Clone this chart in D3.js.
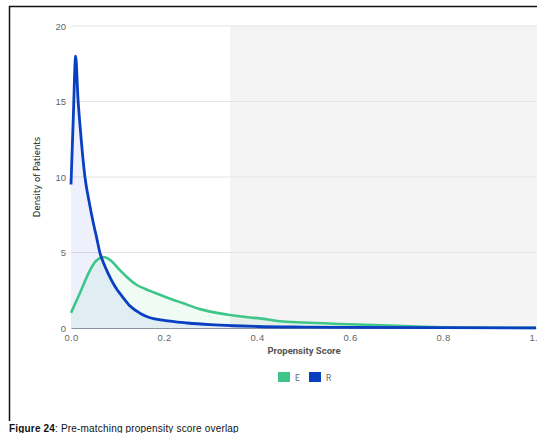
<!DOCTYPE html>
<html><head><meta charset="utf-8">
<script src="https://cdn.jsdelivr.net/npm/d3@7"></script>
<style>
html,body{margin:0;padding:0;background:#fff;overflow:hidden}
svg{display:block;font-family:Roboto,"Noto Sans",Arial,sans-serif}
</style></head>
<body>
<svg id="c" width="537" height="433"></svg>
<script>
// ---- data ----
const seriesNames = ["E", "R"];
const xE = [0, 0.019, 0.041, 0.05, 0.06, 0.069, 0.08, 0.09, 0.1, 0.11, 0.12, 0.14, 0.16, 0.18, 0.206, 0.24, 0.277, 0.314, 0.342, 0.385, 0.406, 0.449, 0.5, 0.6, 0.7, 0.76, 0.8, 0.9, 1.0];
const yE = [1.0, 2.3, 3.84, 4.3, 4.6, 4.7, 4.6, 4.35, 4.0, 3.68, 3.38, 2.88, 2.58, 2.33, 2.02, 1.65, 1.25, 1.0, 0.86, 0.7, 0.64, 0.45, 0.36, 0.25, 0.14, 0.08, 0.05, 0.02, 0.01];
const xR = [0, 0.005, 0.01, 0.015, 0.02, 0.03, 0.04, 0.047, 0.055, 0.062, 0.07, 0.08, 0.09, 0.1, 0.11, 0.127, 0.15, 0.17, 0.2, 0.25, 0.3, 0.35, 0.4, 0.5, 0.6, 0.8, 1.0];
const yR = [9.5, 14, 18, 15.2, 13.2, 10, 8.2, 7.1, 6, 5, 4.3, 3.6, 3.0, 2.5, 2.1, 1.45, 0.95, 0.68, 0.5, 0.33, 0.22, 0.15, 0.1, 0.06, 0.04, 0.02, 0.01];
const xTicks = [0, 0.2, 0.4, 0.6, 0.8, 1.0];
const yTicks = [0, 5, 10, 15, 20];
const shadeStart = 0.342;
const colors = {E: "#3ec689", R: "#0a3fc2"};

// ---- chart ----
const svg = d3.select("#c");
const x = d3.scaleLinear().domain([0, 1]).range([71, 536]);
const y = d3.scaleLinear().domain([0, 20]).range([328, 26]);

// frame
svg.append("line").attr("x1", 9).attr("x2", 537).attr("y1", 6.5).attr("y2", 6.5).attr("stroke", "#111").attr("stroke-width", 1.5);
svg.append("line").attr("x1", 9.5).attr("x2", 9.5).attr("y1", 6).attr("y2", 421).attr("stroke", "#111").attr("stroke-width", 1.5);

// shaded region
svg.append("rect").attr("x", x(shadeStart)).attr("y", y(20)).attr("width", 537 - x(shadeStart)).attr("height", y(0) - y(20)).attr("fill", "#f4f4f4");

// grid
svg.append("g").selectAll("line").data(yTicks.filter(d => d > 0)).join("line")
  .attr("x1", x(0)).attr("x2", 537).attr("y1", d => y(d)).attr("y2", d => y(d))
  .attr("stroke", "#e4e4e4").attr("stroke-width", 1);

const dataE = xE.map((v, i) => [v, yE[i]]);
const dataR = xR.map((v, i) => [v, yR[i]]);
const area = d3.area().x(d => x(d[0])).y0(y(0)).y1(d => y(d[1])).curve(d3.curveMonotoneX);
const line = d3.line().x(d => x(d[0])).y(d => y(d[1])).curve(d3.curveMonotoneX);

svg.append("path").datum(dataE).attr("d", area).attr("fill", colors.E).attr("fill-opacity", 0.08);
svg.append("path").datum(dataR).attr("d", area).attr("fill", colors.R).attr("fill-opacity", 0.07);

// x axis
const xa = svg.append("g").attr("transform", `translate(0,${y(0)})`)
  .call(d3.axisBottom(x).tickValues(xTicks).tickFormat(d3.format(".1f")).tickSize(0).tickPadding(6));
xa.select(".domain").attr("stroke", "#8a94a0").attr("stroke-width", 1.2);
xa.selectAll("text").attr("fill", "#666").attr("font-size", 9.5).attr("letter-spacing", 0.3);

// y axis labels
const ya = svg.append("g").attr("transform", `translate(${x(0) - 5},0)`)
  .call(d3.axisLeft(y).tickValues(yTicks).tickSize(0).tickPadding(0));
ya.select(".domain").remove();
ya.selectAll("text").attr("fill", "#666").attr("font-size", 9.5).attr("dy", "0.32em");

svg.append("path").datum(dataE).attr("d", line).attr("fill", "none").attr("stroke", colors.E).attr("stroke-width", 2.6);
svg.append("path").datum(dataR).attr("d", line).attr("fill", "none").attr("stroke", colors.R).attr("stroke-width", 2.8);

// axis titles
svg.append("text").attr("x", 304).attr("y", 354).attr("text-anchor", "middle")
  .attr("font-size", 9.5).attr("font-weight", "bold").attr("fill", "#555").text("Propensity Score");
svg.append("text").attr("transform", "translate(40,177) rotate(-90)").attr("text-anchor", "middle")
  .attr("font-size", 9.5).attr("fill", "#222").attr("font-family", "'Liberation Sans Narrow','DejaVu Sans Condensed',sans-serif").text("Density of Patients");

// legend
const lg = svg.append("g").attr("transform", "translate(278,372)");
const items = lg.selectAll("g").data(seriesNames).join("g").attr("transform", (d, i) => `translate(${i * 31},0)`);
items.append("rect").attr("width", 12).attr("height", 10).attr("fill", d => colors[d]);
items.append("text").attr("x", 17).attr("y", 8.5).attr("font-size", 8.5).attr("fill", "#666").text(d => d);

// caption
const cap = svg.append("text").attr("x", 9).attr("y", 432).attr("font-size", 10).attr("fill", "#111")
  .attr("letter-spacing", 0.18).attr("font-family", "'Liberation Sans',Arial,sans-serif");
cap.append("tspan").attr("font-weight", "bold").text("Figure 24");
cap.append("tspan").text(": Pre-matching propensity score overlap");
</script>
</body></html>
